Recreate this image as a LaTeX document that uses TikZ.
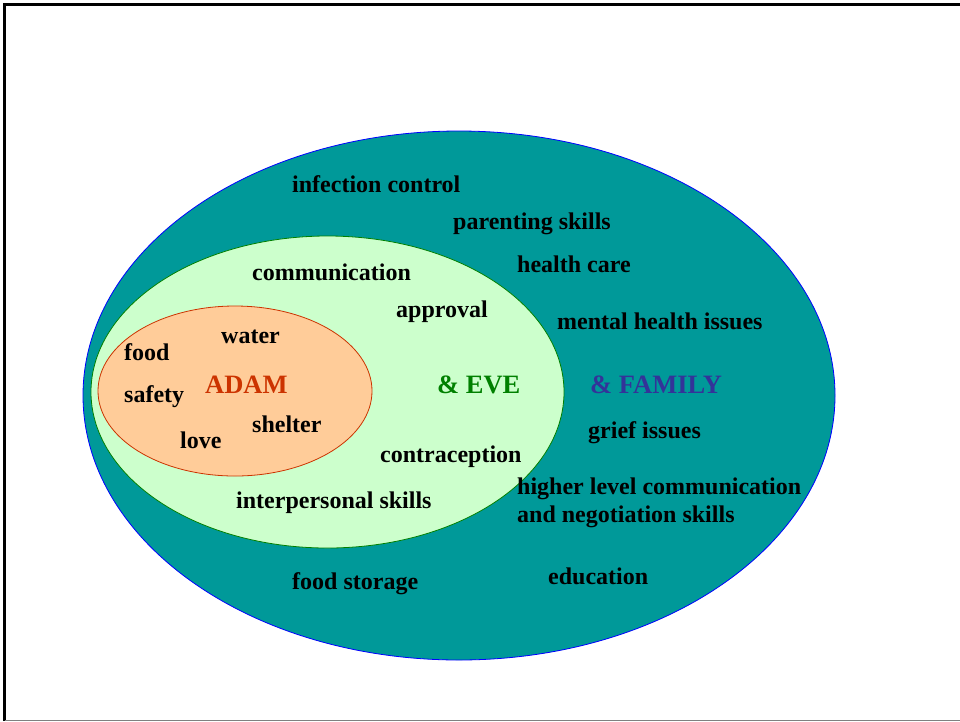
\documentclass[tikz,border=0pt]{standalone}
\usepackage{fontspec}
\setmainfont{Liberation Serif}
\definecolor{tealfill}{HTML}{009999}
\definecolor{greenfill}{HTML}{CCFFCC}
\definecolor{orangefill}{HTML}{FFCC99}
\definecolor{adamc}{HTML}{CC3300}
\definecolor{evec}{HTML}{008000}
\definecolor{famc}{HTML}{333399}
\begin{document}
\begin{tikzpicture}[x=1pt,y=-1pt,
  lbl/.style={anchor=west,inner sep=0pt,font=\fontsize{24}{28}\selectfont\bfseries},
  big/.style={anchor=west,inner sep=0pt,font=\fontsize{26.5}{30}\selectfont\bfseries}]
\useasboundingbox (0,0) rectangle (960,721);
\fill[white] (0,0) rectangle (960,721);
% frame
\draw[line width=2.5pt,black] (4.5,721) -- (4.5,4.5) -- (960,4.5);
\draw[line width=1pt,gray] (4.5,720) -- (960,720);
% ellipses
\draw[fill=tealfill,draw=blue,line width=0.8pt] (459,395.5) ellipse [x radius=376,y radius=264.5];
\draw[fill=greenfill,draw=evec,line width=0.8pt] (327.5,392) ellipse [x radius=236.5,y radius=156];
\draw[fill=orangefill,draw=adamc,line width=0.8pt] (235,391) ellipse [x radius=137,y radius=85];
% labels
\node[lbl] (t1) at (292,184) {infection control};
\node[lbl] (t2) at (453,224) {parenting skills};
\node[lbl] (t3) at (517,264) {health care};
\node[lbl] (t4) at (252,272) {communication};
\node[lbl] (t5) at (396,312) {approval};
\node[lbl] (t6) at (557,321) {mental health issues};
\node[lbl] (t7) at (221,337) {water};
\node[lbl] (t8) at (124,352) {food};
\node[big,text=adamc] (adam) at (205,385) {ADAM};
\node[big,text=evec] (eve) at (437,385) {\& EVE};
\node[big,text=famc] (fam) at (590,385) {\& FAMILY};
\node[lbl] (t9) at (124,397) {safety};
\node[lbl] (t10) at (252,424) {shelter};
\node[lbl] (t11) at (588,433) {grief issues};
\node[lbl] (t12) at (180,440) {love};
\node[lbl] (t13) at (380,457) {contraception};
\node[lbl] (t14) at (517,489) {higher level communication};
\node[lbl] (t15) at (517,517) {and negotiation skills};
\node[lbl] (t16) at (236,503) {interpersonal skills};
\node[lbl] (t17) at (548,576) {education};
\node[lbl] (t18) at (292,584) {food storage};
\end{tikzpicture}
\end{document}
